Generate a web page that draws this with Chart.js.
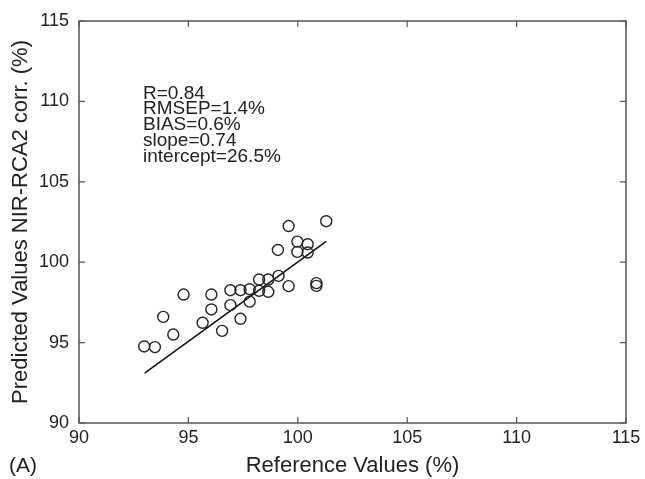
<!DOCTYPE html>
<html>
<head>
<meta charset="utf-8">
<title>NIR-RCA2 corr. vs Reference</title>
<script src="https://cdn.jsdelivr.net/npm/chart.js@4.4.1/dist/chart.umd.min.js"></script>
<style>
	html, body { margin: 0; padding: 0; background: #fff; }
	#wrap { width: 645px; height: 479px; }
</style>
</head>
<body>
<div id="wrap"><canvas id="myChart" width="645" height="479"></canvas></div>
<script>
	// measured points (reference %, predicted %)
	var refValues = [92.98, 93.47, 93.85, 94.31, 94.78, 95.65, 96.05, 96.05, 96.54, 96.92,
		96.92, 97.38, 97.38, 97.80, 97.80, 98.23, 98.23, 98.65, 98.65, 99.12,
		99.09, 99.58, 99.58, 99.98, 99.98, 100.45, 100.45, 100.85, 100.85, 101.30];
	var predValues = [94.76, 94.72, 96.60, 95.50, 97.99, 96.23, 97.99, 97.06, 95.73, 98.26,
		97.33, 98.26, 96.48, 98.32, 97.55, 98.92, 98.22, 98.92, 98.16, 99.15,
		100.76, 98.51, 102.25, 101.28, 100.64, 101.12, 100.60, 98.70, 98.53, 102.55];

	// regression line end points
	var fitX = [93.0, 101.3];
	var fitY = [93.1, 101.3];

	var tickValues = [90, 95, 100, 105, 110, 115];
	var statsLines = ["R=0.84", "RMSEP=1.4%", "BIAS=0.6%", "slope=0.74", "intercept=26.5%"];
	var panelLabel = "(A)";

	var fontFamily = "'Liberation Sans', Arial, Helvetica, sans-serif";

	var points = refValues.map(function(v, i) { return { x: v, y: predValues[i] }; });
	var fitLine = fitX.map(function(v, i) { return { x: v, y: fitY[i] }; });

	var framePlugin = {
		id: "frame",
		afterDraw: function(chart) {
			var c = chart.ctx;
			var a = chart.chartArea;
			var sx = chart.scales.x;
			var sy = chart.scales.y;
			var len = 6;

			c.save();
			c.strokeStyle = "#555";
			c.lineWidth = 1.5;
			c.strokeRect(a.left, a.top, a.right - a.left, a.bottom - a.top);

			c.lineWidth = 1.2;
			c.beginPath();
			tickValues.forEach(function(t) {
				var px = sx.getPixelForValue(t);
				var py = sy.getPixelForValue(t);
				c.moveTo(px, a.bottom); c.lineTo(px, a.bottom - len);
				c.moveTo(px, a.top); c.lineTo(px, a.top + len);
				c.moveTo(a.left, py); c.lineTo(a.left + len, py);
				c.moveTo(a.right, py); c.lineTo(a.right - len, py);
			});
			c.stroke();

			// stats text
			c.fillStyle = "#222";
			c.font = "19px " + fontFamily;
			c.textAlign = "left";
			c.textBaseline = "alphabetic";
			statsLines.forEach(function(s, i) {
				c.fillText(s, 143, 98.5 + i * 15.9);
			});

			// panel label
			c.font = "21px " + fontFamily;
			c.textBaseline = "middle";
			c.fillText(panelLabel, 9, 466);
			c.restore();
		}
	};

	var ctx = document.getElementById("myChart");

	var data = {
		datasets: [
			{
				label: "samples",
				data: points,
				pointStyle: "circle",
				pointRadius: 5.5,
				pointHoverRadius: 5.5,
				pointBorderWidth: 1.4,
				pointBorderColor: "#222",
				pointBackgroundColor: "rgba(0,0,0,0)",
				showLine: false
			},
			{
				label: "fit",
				data: fitLine,
				showLine: true,
				borderColor: "#111",
				borderWidth: 1.6,
				pointRadius: 0,
				fill: false
			}
		]
	};

	var options = {
		responsive: false,
		animation: false,
		devicePixelRatio: 1,
		layout: {
			padding: { left: 0, top: 21, right: 19, bottom: 0 }
		},
		plugins: {
			legend: { display: false },
			tooltip: { enabled: false }
		},
		scales: {
			x: {
				type: "linear",
				min: 90,
				max: 115,
				afterFit: function(scale) { scale.height = 56; },
				grid: { display: false, drawTicks: false },
				border: { display: false },
				ticks: {
					stepSize: 5,
					padding: 4,
					color: "#222",
					font: { family: fontFamily, size: 18 }
				},
				title: {
					display: true,
					text: "Reference Values (%)",
					color: "#222",
					font: { family: fontFamily, size: 22 },
					padding: { top: 0, bottom: 0 }
				}
			},
			y: {
				type: "linear",
				min: 90,
				max: 115,
				afterFit: function(scale) { scale.width = 79; },
				grid: { display: false, drawTicks: false },
				border: { display: false },
				ticks: {
					stepSize: 5,
					padding: 10,
					color: "#222",
					font: { family: fontFamily, size: 18 }
				},
				title: {
					display: true,
					text: "Predicted Values NIR-RCA2 corr. (%)",
					color: "#222",
					font: { family: fontFamily, size: 22 },
					padding: { top: 8, bottom: 0 }
				}
			}
		}
	};

	var myChart = new Chart(ctx, {
		type: "scatter",
		data: data,
		options: options,
		plugins: [framePlugin]
	});
</script>
</body>
</html>
